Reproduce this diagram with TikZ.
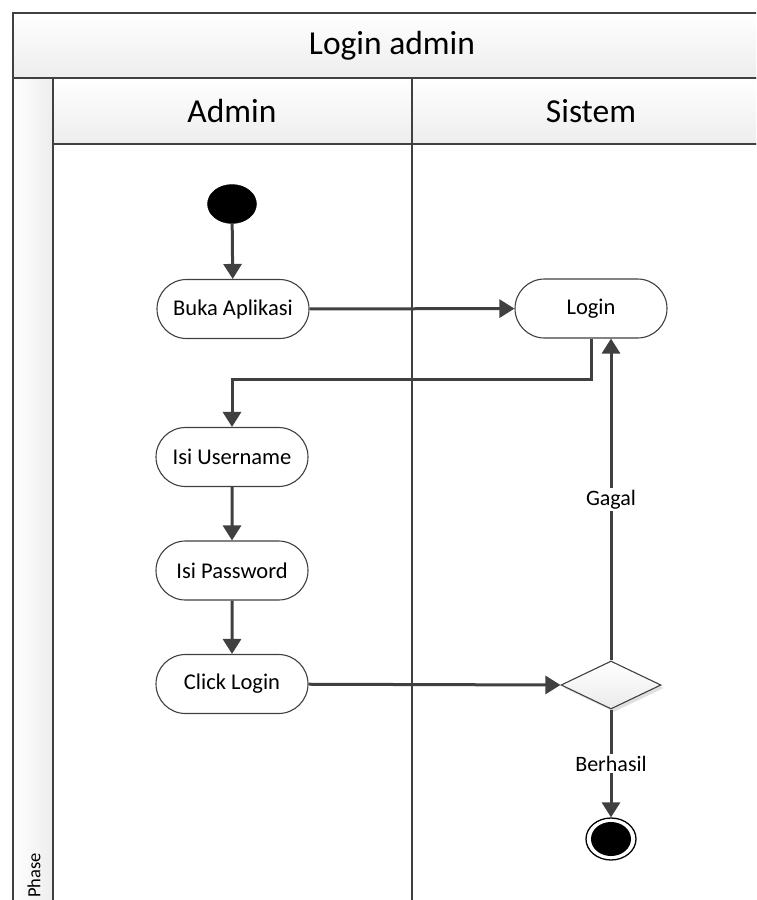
\documentclass[tikz,border=0pt]{standalone}
\usepackage{fontspec}
\setmainfont{Carlito}
\usetikzlibrary{shapes.geometric,shapes.misc,arrows.meta,shadows}
\definecolor{lineg}{HTML}{404040}
\definecolor{bandg}{HTML}{EDEDED}
\begin{document}
\begin{tikzpicture}[x=1pt,y=-1pt,
  frame/.style={draw=lineg,line width=2.4pt},
  band/.style={frame,top color=white,bottom color=bandg},
  sideband/.style={frame,left color=white,right color=bandg},
  act/.style={rounded rectangle,draw=black!75,line width=1.1pt,fill=white,minimum width=152pt,minimum height=59pt,inner sep=0pt,font=\fontsize{22.5}{26}\selectfont},
  conn/.style={draw=lineg,line width=3pt,-{Triangle[length=15pt,width=18pt]}},
  lbl/.style={fill=white,inner sep=2pt,font=\fontsize{22}{26}\selectfont},
  hdr/.style={font=\fontsize{33.5}{38}\selectfont}]
\useasboundingbox (0,0) rectangle (756,900);
\begin{scope}
\clip (0,0) rectangle (756,900);
% swimlane frame
\path[band] (13,13) rectangle (772,78);
\path[sideband] (13,78) rectangle (53,910);
\path[band] (53,78) rectangle (412,144);
\path[band] (412,78) rectangle (772,144);
\draw[frame] (53,144) rectangle (412,910);
\draw[frame] (412,144) rectangle (772,910);
\node[hdr] (title) at (392,46) {Login admin};
\node[hdr] (hadmin) at (232,111) {Admin};
\node[hdr] (hsistem) at (591,111) {Sistem};
\node[rotate=90,font=\fontsize{18.5}{22}\selectfont,anchor=west,inner sep=0pt] (phase) at (34,898) {Phase};
% nodes
\node[ellipse,fill=black,draw=black,minimum width=49pt,minimum height=39pt,inner sep=0pt] (start) at (232,204) {};
\node[act] (buka) at (233,309) {Buka Aplikasi};
\node[act] (login) at (591,308.5) {Login};
\node[act] (user) at (232,457) {Isi Username};
\node[act] (pass) at (232,570.5) {Isi Password};
\node[act] (click) at (232,684) {Click Login};
\node[diamond,draw=black!75,line width=1.1pt,top color=white,bottom color=black!8,minimum width=100pt,minimum height=48pt,inner sep=0pt,drop shadow={shadow xshift=3pt,shadow yshift=-3pt,fill=black!12,opacity=1}] (dec) at (611,685) {};
\node[ellipse,draw=black,line width=1.3pt,fill=white,minimum width=50pt,minimum height=42pt,inner sep=0pt,
  path picture={\fill[black] (path picture bounding box.center) ellipse [x radius=20pt,y radius=17pt];}] (end) at (611,839) {};
\coordinate (elb) at (0,379);
% connectors
\draw[conn] (start) -- (buka);
\draw[conn] (buka) -- (login);
\draw[conn] (login.south) -- (login.south |- elb) -| (user.north);
\draw[conn] (user) -- (pass);
\draw[conn] (pass) -- (click);
\draw[conn] (click) -- (dec.west);
\draw[conn] (dec.north) -- node[lbl] {Gagal} (dec.north |- login.south);
\draw[conn] (dec.south) -- node[lbl] {Berhasil} (end);
\end{scope}
\end{tikzpicture}
\end{document}
